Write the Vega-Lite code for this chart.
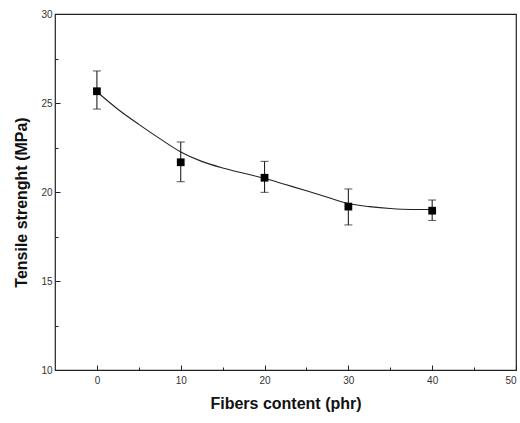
{
  "$schema": "https://vega.github.io/schema/vega-lite/v6.json",
  "width": 461,
  "height": 356,
  "autosize": "none",
  "padding": {"left": 55, "top": 14, "right": 4, "bottom": 53},
  "background": "white",
  "config": {
    "view": {"stroke": "#222", "strokeWidth": 1.2},
    "axis": {"grid": false, "domain": false, "tickColor": "#222", "tickWidth": 1, "labelFont": "Liberation Sans", "labelFontSize": 10, "labelColor": "#333", "titleFont": "Liberation Sans", "titleFontWeight": "bold", "titleColor": "#111"}
  },
  "datasets": {
    "points": [
      {"fiber": 0, "ts": 25.66, "lo": 24.66, "hi": 26.8},
      {"fiber": 10, "ts": 21.67, "lo": 20.58, "hi": 22.81},
      {"fiber": 20, "ts": 20.8, "lo": 19.98, "hi": 21.72},
      {"fiber": 30, "ts": 19.18, "lo": 18.15, "hi": 20.17},
      {"fiber": 40, "ts": 18.95, "lo": 18.4, "hi": 19.55}
    ],
    "curve": [
      {"fiber": 0, "fit": 25.63},
      {"fiber": 2.5, "fit": 24.65},
      {"fiber": 5, "fit": 23.8},
      {"fiber": 7.5, "fit": 23.0},
      {"fiber": 10, "fit": 22.25},
      {"fiber": 12.5, "fit": 21.72},
      {"fiber": 15, "fit": 21.35},
      {"fiber": 17.5, "fit": 21.05},
      {"fiber": 20, "fit": 20.77},
      {"fiber": 22.5, "fit": 20.42},
      {"fiber": 25, "fit": 20.07},
      {"fiber": 27.5, "fit": 19.7},
      {"fiber": 30, "fit": 19.35},
      {"fiber": 32.5, "fit": 19.18},
      {"fiber": 35, "fit": 19.07},
      {"fiber": 37.5, "fit": 19.02},
      {"fiber": 40, "fit": 19.02}
    ]
  },
  "resolve": {"axis": {"x": "independent", "y": "independent"}},
  "layer": [
    {
      "encoding": {
        "x": {"type": "quantitative", "scale": {"domain": [-5, 50], "nice": false, "zero": false},
              "axis": {"orient": "bottom", "values": [0, 10, 20, 30, 40, 50], "tickSize": -5, "labelPadding": 10, "title": "Fibers content (phr)", "titleFontSize": 16, "titlePadding": 10}},
        "y": {"type": "quantitative", "scale": {"domain": [10, 30], "nice": false, "zero": false},
              "axis": {"orient": "left", "values": [10, 15, 20, 25, 30], "tickSize": -5, "labelPadding": 8, "title": "Tensile strenght (MPa)", "titleFontSize": 16, "titlePadding": 11, "titleY": 188}}
      },
      "layer": [
        {
          "data": {"name": "curve"},
          "mark": {"type": "line", "interpolate": "monotone", "color": "#222", "strokeWidth": 1.1},
          "encoding": {"x": {"field": "fiber"}, "y": {"field": "fit"}}
        },
        {
          "data": {"name": "points"},
          "mark": {"type": "rule", "color": "#222", "strokeWidth": 1.1},
          "encoding": {"x": {"field": "fiber"}, "y": {"field": "lo"}, "y2": {"field": "hi"}}
        },
        {
          "data": {"name": "points"},
          "mark": {"type": "tick", "orient": "horizontal", "color": "#222", "size": 8, "thickness": 1.1},
          "encoding": {"x": {"field": "fiber"}, "y": {"field": "hi"}}
        },
        {
          "data": {"name": "points"},
          "mark": {"type": "tick", "orient": "horizontal", "color": "#222", "size": 8, "thickness": 1.1},
          "encoding": {"x": {"field": "fiber"}, "y": {"field": "lo"}}
        },
        {
          "data": {"name": "points"},
          "mark": {"type": "point", "shape": "square", "filled": true, "color": "#000", "size": 60, "opacity": 1},
          "encoding": {"x": {"field": "fiber"}, "y": {"field": "ts"}}
        }
      ]
    },
    {
      "data": {"name": "points"},
      "mark": {"type": "point", "opacity": 0},
      "encoding": {
        "x": {"field": "fiber", "type": "quantitative",
              "axis": {"orient": "bottom", "values": [5, 15, 25, 35, 45], "tickSize": -3, "labels": false, "title": null}},
        "y": {"field": "ts", "type": "quantitative",
              "axis": {"orient": "left", "values": [12.5, 17.5, 22.5, 27.5], "tickSize": -3, "labels": false, "title": null}}
      }
    }
  ]
}
